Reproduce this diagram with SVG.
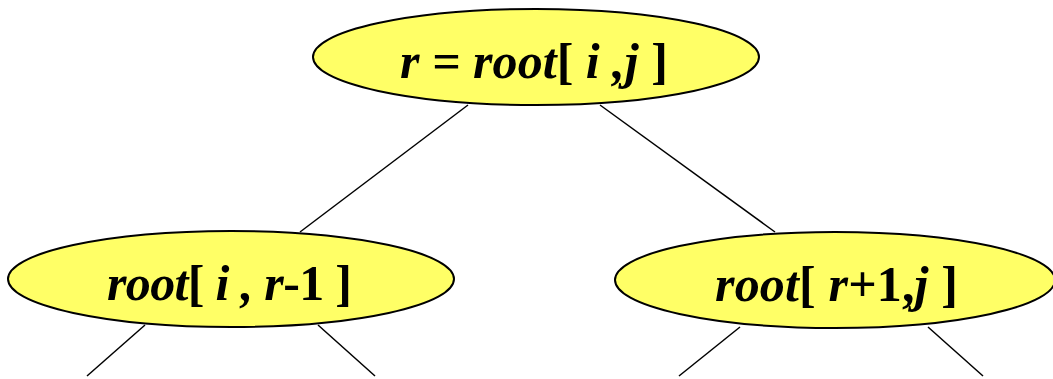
<svg xmlns="http://www.w3.org/2000/svg" width="1053" height="379" viewBox="0 0 1053 379">
<style>
.node{fill:#FFFF66;stroke:#000;stroke-width:2}
.lbl{font-family:'Liberation Serif','Times New Roman',serif;font-size:50px;font-weight:bold;font-style:italic;fill:#000}
.up{font-style:normal}
.edge{stroke:#000;stroke-width:1.5;fill:none}
</style>
<rect width="1053" height="379" fill="#fff"/>
<g id="connectors">
<line class="edge" x1="468" y1="105" x2="300" y2="232"/>
<line class="edge" x1="600" y1="105" x2="775" y2="232"/>
<line class="edge" x1="145" y1="325" x2="87" y2="376"/>
<line class="edge" x1="318" y1="325" x2="375" y2="376"/>
<line class="edge" x1="740" y1="327" x2="679" y2="376"/>
<line class="edge" x1="928" y1="327" x2="983" y2="376"/>
</g>
<g id="root">
<ellipse class="node" cx="536" cy="57" rx="223" ry="48"/>
<text class="lbl" x="400" y="78" textLength="268" lengthAdjust="spacing">r = root<tspan class="up">[</tspan> i ,j <tspan class="up">]</tspan></text>
</g>
<g id="left">
<ellipse class="node" cx="231" cy="279" rx="223" ry="48"/>
<text class="lbl" x="107" y="300" textLength="245" lengthAdjust="spacing">root<tspan class="up">[</tspan> i , r<tspan class="up">-1 ]</tspan></text>
</g>
<g id="right">
<ellipse class="node" cx="835" cy="280" rx="220" ry="48"/>
<text class="lbl" x="715" y="301" textLength="243" lengthAdjust="spacing">root<tspan class="up">[ </tspan>r<tspan class="up">+1,</tspan>j<tspan class="up"> ]</tspan></text>
</g>
</svg>
